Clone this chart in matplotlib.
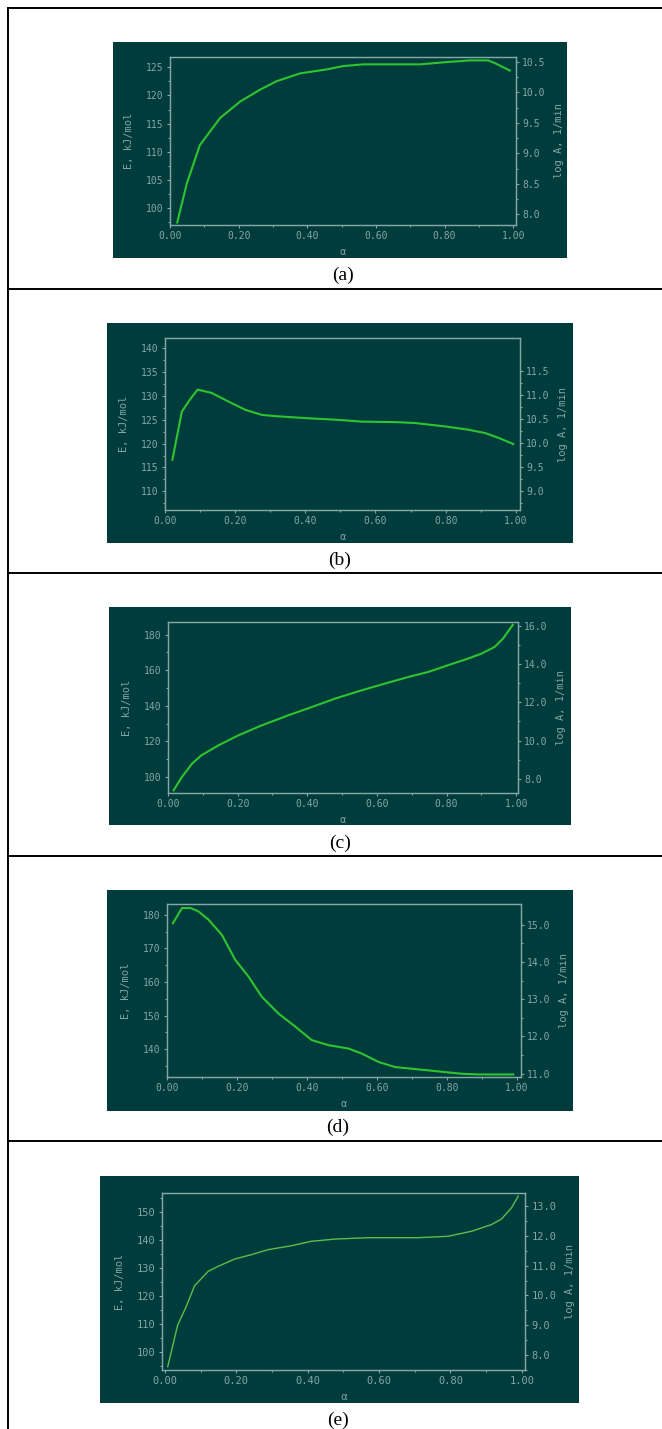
import matplotlib
matplotlib.use("Agg")
import numpy as np
import matplotlib.pyplot as plt
from matplotlib.patches import Rectangle
from matplotlib.lines import Line2D
from matplotlib.ticker import MultipleLocator, FixedLocator, FormatStrFormatter

W, H = 662, 1429

# data: conversion vs activation energy
u_a = [0.021, 0.049, 0.087, 0.146, 0.204, 0.262, 0.31, 0.379, 0.456, 0.505, 0.563, 0.728, 0.806, 0.874, 0.927, 0.947, 0.99]
E_a = [97.5, 104.4, 111.2, 116.0, 118.9, 121.0, 122.5, 123.9, 124.6, 125.2, 125.5, 125.5, 125.9, 126.2, 126.2, 125.7, 124.4]

u_b = [0.021, 0.048, 0.071, 0.093, 0.133, 0.181, 0.228, 0.276, 0.323, 0.409, 0.485, 0.561, 0.656, 0.713, 0.798, 0.865, 0.913, 0.951, 0.993]
E_b = [116.6, 126.7, 129.2, 131.3, 130.6, 128.8, 127.1, 126.0, 125.7, 125.3, 125.0, 124.6, 124.5, 124.3, 123.6, 122.9, 122.2, 121.2, 119.9]

u_c = [0.016, 0.04, 0.069, 0.096, 0.145, 0.202, 0.269, 0.346, 0.413, 0.479, 0.556, 0.623, 0.69, 0.747, 0.804, 0.861, 0.9, 0.938, 0.962, 0.99]
E_c = [92.5, 100.0, 107.5, 112.2, 117.8, 123.4, 129.0, 134.7, 139.3, 144.0, 148.7, 152.5, 156.2, 159.0, 162.8, 166.5, 169.3, 173.1, 177.8, 185.5]

u_d = [0.017, 0.043, 0.067, 0.09, 0.119, 0.157, 0.195, 0.233, 0.271, 0.319, 0.367, 0.414, 0.462, 0.519, 0.557, 0.605, 0.652, 0.7, 0.748, 0.795, 0.843, 0.89, 0.99]
E_d = [177.5, 182.0, 182.0, 181.0, 178.5, 174.0, 166.6, 161.6, 155.6, 150.6, 146.7, 142.7, 141.2, 140.2, 138.7, 136.2, 134.7, 134.2, 133.7, 133.2, 132.7, 132.5, 132.5]

u_e = [0.008, 0.036, 0.06, 0.083, 0.121, 0.149, 0.195, 0.242, 0.289, 0.354, 0.41, 0.476, 0.569, 0.709, 0.793, 0.859, 0.915, 0.943, 0.971, 0.99]
E_e = [94.6, 109.6, 116.2, 123.6, 128.8, 130.6, 133.2, 134.8, 136.6, 138.0, 139.6, 140.4, 140.9, 140.9, 141.4, 143.2, 145.6, 147.6, 151.6, 155.8]

labels = ["(a)", "(b)", "(c)", "(d)", "(e)"]

# right axis tick ranges (first, last, step) as labelled in the source
logA_ticks = [(8.0, 10.5, 0.5), (9.0, 11.5, 0.5), (8.0, 16.0, 2.0), (11.0, 15.0, 1.0), (8.0, 13.0, 1.0)]

BG = "#003c3c"
FG = "#86a6a6"
GREEN = "#2ec42e"

# panel pixel boxes: dark panel, axes frame, caption position
panels = [
    dict(u=u_a, E=E_a, bg=(113, 42, 567, 258), fr=(170, 57, 516, 225), cap=(343, 275),
         xlim=(0, 1.008), ylim=(97.05, 126.8), y2lim=(7.825, 10.58),
         ymaj=5, ymin=2.5, lw=1.5, col=GREEN, fs=7),
    dict(u=u_b, E=E_b, bg=(107, 323, 573, 543), fr=(165, 338, 520, 510), cap=(340, 560),
         xlim=(0, 1.012), ylim=(106.1, 142.1), y2lim=(8.61, 12.19),
         ymaj=5, ymin=2.5, lw=1.5, col=GREEN, fs=7),
    dict(u=u_c, E=E_c, bg=(109, 607, 571, 825), fr=(168, 622, 518, 793), cap=(340, 843),
         xlim=(0, 1.005), ylim=(91.0, 187.1), y2lim=(7.25, 16.21),
         ymaj=20, ymin=10, lw=1.5, col=GREEN, fs=7),
    dict(u=u_d, E=E_d, bg=(107, 890, 573, 1111), fr=(167, 904, 521, 1077), cap=(338, 1127),
         xlim=(0, 1.012), ylim=(131.74, 183.2), y2lim=(10.91, 15.56),
         ymaj=10, ymin=5, lw=1.5, col=GREEN, fs=7),
    dict(u=u_e, E=E_e, bg=(100, 1176, 579, 1403), fr=(162, 1193, 525, 1370), cap=(338, 1420),
         xlim=(-0.008, 1.009), ylim=(93.4, 156.95), y2lim=(7.49, 13.45),
         ymaj=10, ymin=5, lw=1.0, col="#58c048", fs=7.5),
]


def box(x0, y0, x1, y1):
    return [x0 / W, 1 - y1 / H, (x1 - x0) / W, (y1 - y0) / H]


fig = plt.figure(figsize=(W / 100, H / 100), dpi=100)
fig.patch.set_facecolor("white")

# table borders
for yy in [8, 288.5, 573, 856, 1141]:
    fig.add_artist(Line2D([8 / W, 1], [1 - yy / H, 1 - yy / H], color="black", lw=1.4,
                          transform=fig.transFigure))
fig.add_artist(Line2D([8 / W, 8 / W], [1 - 8 / H, 0], color="black", lw=1.4,
                      transform=fig.transFigure))

for p, lab, (t0, t1, st) in zip(panels, labels, logA_ticks):
    x0, y0, x1, y1 = p["bg"]
    fig.add_artist(Rectangle((x0 / W, 1 - y1 / H), (x1 - x0) / W, (y1 - y0) / H,
                             transform=fig.transFigure, facecolor=BG, edgecolor="none", zorder=0))
    ax = fig.add_axes(box(*p["fr"]))
    ax.set_facecolor(BG)
    ax.plot(p["u"], p["E"], color=p["col"], lw=p["lw"])
    ax.set_xlim(*p["xlim"])
    ax.set_ylim(*p["ylim"])
    ax.xaxis.set_major_locator(MultipleLocator(0.2))
    ax.xaxis.set_minor_locator(MultipleLocator(0.1))
    ax.xaxis.set_major_formatter(FormatStrFormatter("%.2f"))
    ax.yaxis.set_major_locator(MultipleLocator(p["ymaj"]))
    ax.yaxis.set_minor_locator(MultipleLocator(p["ymin"]))
    ax.yaxis.set_major_formatter(FormatStrFormatter("%d"))

    ax2 = ax.twinx()
    ax2.set_ylim(*p["y2lim"])
    ax2.yaxis.set_major_locator(FixedLocator(np.arange(t0, t1 + st / 2, st)))
    ax2.yaxis.set_minor_locator(FixedLocator(np.arange(t0 - st / 2, t1 + st / 4, st)))
    ax2.yaxis.set_major_formatter(FormatStrFormatter("%.1f"))

    for a in (ax, ax2):
        for s in a.spines.values():
            s.set_color(FG)
            s.set_linewidth(0.9)
        a.tick_params(which="both", direction="out", colors=FG, labelcolor=FG,
                      labelsize=p["fs"], width=0.8)
        a.tick_params(which="major", length=2.5, pad=2)
        a.tick_params(which="minor", length=1.5)
        for t in a.get_xticklabels() + a.get_yticklabels():
            t.set_family("DejaVu Sans Mono")

    ax.set_xlabel("α", color=FG, fontsize=p["fs"], labelpad=4)
    ax.set_ylabel("E, kJ/mol", color=FG, fontsize=7.5, family="DejaVu Sans Mono", labelpad=9)
    ax2.set_ylabel("log A, 1/min", color=FG, fontsize=7.5, family="DejaVu Sans Mono", labelpad=6)

    cx, cy = p["cap"]
    fig.text(cx / W, 1 - cy / H, lab, ha="center", va="center", fontsize=14,
             family="Liberation Serif", color="black")

fig.savefig("out.png", dpi=100, facecolor="white")
